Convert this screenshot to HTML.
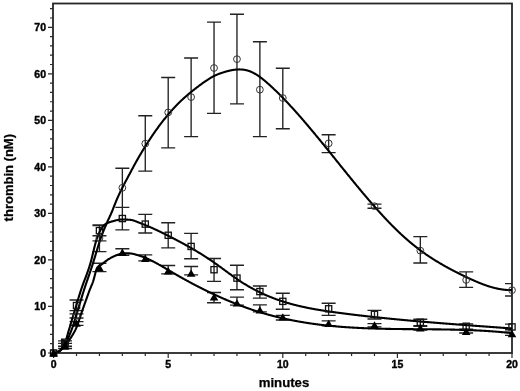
<!DOCTYPE html>
<html><head><meta charset="utf-8"><style>
html,body{margin:0;padding:0;background:#fff;}
body{width:520px;height:391px;overflow:hidden;}
svg{display:block;filter:grayscale(1);}
</style></head><body>
<svg width="520" height="391" viewBox="0 0 520 391"><defs><clipPath id="c"><rect x="0" y="0" width="512" height="391"/></clipPath></defs><rect x="53.0" y="3.5" width="459.0" height="349.5" fill="none" stroke="#262626" stroke-width="1.8"/><path d="M48.0,353.00H53.0 M50.0,343.69H53.0 M50.0,334.39H53.0 M50.0,325.08H53.0 M50.0,315.78H53.0 M48.0,306.47H53.0 M50.0,297.16H53.0 M50.0,287.86H53.0 M50.0,278.55H53.0 M50.0,269.25H53.0 M48.0,259.94H53.0 M50.0,250.63H53.0 M50.0,241.33H53.0 M50.0,232.02H53.0 M50.0,222.72H53.0 M48.0,213.41H53.0 M50.0,204.10H53.0 M50.0,194.80H53.0 M50.0,185.49H53.0 M50.0,176.19H53.0 M48.0,166.88H53.0 M50.0,157.57H53.0 M50.0,148.27H53.0 M50.0,138.96H53.0 M50.0,129.66H53.0 M48.0,120.35H53.0 M50.0,111.04H53.0 M50.0,101.74H53.0 M50.0,92.43H53.0 M50.0,83.13H53.0 M48.0,73.82H53.0 M50.0,64.51H53.0 M50.0,55.21H53.0 M50.0,45.90H53.0 M50.0,36.60H53.0 M48.0,27.29H53.0 M50.0,17.98H53.0 M50.0,8.68H53.0 M53.60,353.0V358.0 M76.52,353.0V356.0 M99.44,353.0V356.0 M122.36,353.0V356.0 M145.28,353.0V356.0 M168.20,353.0V358.0 M191.12,353.0V356.0 M214.04,353.0V356.0 M236.96,353.0V356.0 M259.88,353.0V356.0 M282.80,353.0V358.0 M305.72,353.0V356.0 M328.64,353.0V356.0 M351.56,353.0V356.0 M374.48,353.0V356.0 M397.40,353.0V358.0 M420.32,353.0V356.0 M443.24,353.0V356.0 M466.16,353.0V356.0 M489.08,353.0V356.0 M512.00,353.0V358.0" stroke="#2a2a2a" stroke-width="1.2" fill="none"/><g font-family="Liberation Sans, sans-serif" font-weight="bold" font-size="10.5" fill="#000" stroke="#000" stroke-width="0.4"><text x="46.0" y="356.80" text-anchor="end">0</text><text x="46.0" y="310.27" text-anchor="end">10</text><text x="46.0" y="263.74" text-anchor="end">20</text><text x="46.0" y="217.21" text-anchor="end">30</text><text x="46.0" y="170.68" text-anchor="end">40</text><text x="46.0" y="124.15" text-anchor="end">50</text><text x="46.0" y="77.62" text-anchor="end">60</text><text x="46.0" y="31.09" text-anchor="end">70</text><text x="53.60" y="367.7" text-anchor="middle">0</text><text x="168.20" y="367.7" text-anchor="middle">5</text><text x="282.80" y="367.7" text-anchor="middle">10</text><text x="397.40" y="367.7" text-anchor="middle">15</text><text x="512.00" y="367.7" text-anchor="middle">20</text></g><text x="284.0" y="386.8" text-anchor="middle" font-family="Liberation Sans, sans-serif" font-weight="bold" font-size="13.2" fill="#000" stroke="#000" stroke-width="0.25">minutes</text><text transform="translate(13.1,177.7) rotate(-90)" text-anchor="middle" font-family="Liberation Sans, sans-serif" font-weight="bold" font-size="13" fill="#000" stroke="#000" stroke-width="0.25">thrombin (nM)</text><path d="M92.44,240.9h14" stroke="#333" stroke-width="1.3"/><rect x="61" y="338.5" width="7.4" height="11" fill="#111"/><g clip-path="url(#c)"><path d="M65.06,340.90V346.21 M58.06,340.90h14 M58.06,346.21h14 M76.52,313.82V318.01 M69.52,313.82h14 M69.52,318.01h14 M99.44,225.04V251.56 M92.44,225.04h14 M92.44,251.56h14 M122.36,168.28V207.36 M115.36,168.28h14 M115.36,207.36h14 M145.28,115.70V171.07 M138.28,115.70h14 M138.28,171.07h14 M168.20,77.54V147.80 M161.20,77.54h14 M161.20,147.80h14 M191.12,58.00V136.64 M184.12,58.00h14 M184.12,136.64h14 M214.04,22.17V113.37 M207.04,22.17h14 M207.04,113.37h14 M236.96,14.26V103.83 M229.96,14.26h14 M229.96,103.83h14 M259.88,41.71V136.64 M252.88,41.71h14 M252.88,136.64h14 M282.80,68.24V128.73 M275.80,68.24h14 M275.80,128.73h14 M328.64,134.77V152.69 M321.64,134.77h14 M321.64,152.69h14 M374.48,204.10V208.29 M367.48,204.10h14 M367.48,208.29h14 M420.32,236.68V262.96 M413.32,236.68h14 M413.32,262.96h14 M466.16,271.81V287.39 M459.16,271.81h14 M459.16,287.39h14 M512.00,283.67V296.00 M505.00,283.67h14 M505.00,296.00h14 M65.06,343.41V348.49 M58.06,343.41h14 M58.06,348.49h14 M76.52,300.00V310.61 M69.52,300.00h14 M69.52,310.61h14 M99.44,225.51V235.74 M92.44,225.51h14 M92.44,235.74h14 M122.36,207.36V229.93 M115.36,207.36h14 M115.36,229.93h14 M145.28,214.34V232.95 M138.28,214.34h14 M138.28,232.95h14 M168.20,222.72V247.84 M161.20,222.72h14 M161.20,247.84h14 M191.12,233.42V258.78 M184.12,233.42h14 M184.12,258.78h14 M214.04,258.54V281.34 M207.04,258.54h14 M207.04,281.34h14 M236.96,265.29V289.72 M229.96,265.29h14 M229.96,289.72h14 M259.88,286.00V298.09 M252.88,286.00h14 M252.88,298.09h14 M282.80,293.21V309.26 M275.80,293.21h14 M275.80,309.26h14 M328.64,303.21V315.31 M321.64,303.21h14 M321.64,315.31h14 M374.48,310.43V319.03 M367.48,310.43h14 M367.48,319.03h14 M420.32,319.27V325.78 M413.32,319.27h14 M413.32,325.78h14 M466.16,323.92V329.27 M459.16,323.92h14 M459.16,329.27h14 M512.00,324.15V329.74 M505.00,324.15h14 M505.00,329.74h14 M65.06,343.41V348.49 M58.06,343.41h14 M58.06,348.49h14 M76.52,321.59V325.31 M69.52,321.59h14 M69.52,325.31h14 M99.44,263.20V271.57 M92.44,263.20h14 M92.44,271.57h14 M122.36,248.77V255.29 M115.36,248.77h14 M115.36,255.29h14 M145.28,254.82V260.87 M138.28,254.82h14 M138.28,260.87h14 M168.20,265.52V273.90 M161.20,265.52h14 M161.20,273.90h14 M191.12,266.45V274.83 M184.12,266.45h14 M184.12,274.83h14 M214.04,292.51V302.75 M207.04,292.51h14 M207.04,302.75h14 M236.96,297.16V305.07 M229.96,297.16h14 M229.96,305.07h14 M259.88,304.84V311.82 M252.88,304.84h14 M252.88,311.82h14 M282.80,315.31V319.96 M275.80,315.31h14 M275.80,319.96h14 M328.64,320.89V325.78 M321.64,320.89h14 M321.64,325.78h14 M374.48,323.69V326.94 M367.48,323.69h14 M367.48,326.94h14 M420.32,326.25V329.97 M413.32,326.25h14 M413.32,329.97h14 M466.16,329.74V332.99 M459.16,329.74h14 M459.16,332.99h14 M512.00,332.06V335.32 M505.00,332.06h14 M505.00,335.32h14" stroke="#222" stroke-width="1.35" fill="none"/></g><path d="M53.00,353.00 L53.38,352.99 L53.77,352.96 L54.15,352.92 L54.53,352.86 L54.91,352.78 L55.30,352.69 L55.68,352.59 L56.06,352.47 L56.44,352.35 L56.83,352.21 L57.21,352.07 L57.59,351.92 L57.97,351.76 L58.35,351.60 L58.74,351.43 L59.12,351.24 L59.50,351.00 L59.88,350.72 L60.27,350.40 L60.65,350.03 L61.03,349.63 L61.41,349.20 L61.80,348.74 L62.18,348.26 L62.56,347.75 L62.95,347.23 L63.33,346.69 L63.71,346.15 L64.09,345.59 L64.47,345.04 L64.86,344.46 L65.24,343.85 L65.62,343.20 L66.00,342.52 L66.39,341.80 L66.77,341.06 L67.15,340.28 L67.53,339.48 L67.92,338.65 L68.30,337.80 L68.68,336.93 L69.06,336.04 L69.45,335.12 L69.83,334.20 L70.21,333.26 L70.59,332.30 L70.98,331.33 L71.36,330.36 L71.74,329.37 L72.12,328.33 L72.51,327.24 L72.89,326.11 L73.27,324.94 L73.66,323.74 L74.04,322.51 L74.42,321.26 L74.80,319.99 L75.19,318.71 L75.57,317.42 L75.95,316.13 L76.33,314.84 L76.72,313.56 L77.10,312.29 L77.48,311.03 L77.86,309.80 L78.25,308.57 L78.63,307.33 L79.01,306.09 L79.39,304.85 L79.78,303.60 L80.16,302.35 L80.54,301.09 L80.92,299.84 L81.31,298.60 L81.69,297.35 L82.07,296.12 L82.45,294.89 L82.84,293.66 L83.22,292.45 L83.60,291.25 L83.98,290.05 L84.36,288.88 L84.75,287.71 L85.13,286.56 L85.51,285.41 L85.89,284.28 L86.28,283.15 L86.66,282.02 L87.04,280.91 L87.42,279.79 L87.81,278.68 L88.19,277.57 L88.57,276.46 L88.95,275.35 L89.34,274.23 L89.72,273.11 L90.10,271.99 L90.48,270.86 L90.87,269.73 L91.25,268.58 L91.63,267.43 L92.01,266.26 L92.40,265.08 L92.78,263.88 L93.16,262.66 L93.54,261.43 L93.93,260.18 L94.31,258.92 L94.69,257.66 L95.07,256.38 L95.46,255.10 L95.84,253.82 L96.22,252.54 L96.60,251.26 L96.99,249.98 L97.37,248.71 L97.75,247.45 L98.13,246.20 L98.52,244.97 L98.90,243.74 L99.28,242.54 L99.66,241.35 L100.05,240.19 L100.43,239.05 L100.81,237.93 L101.19,236.84 L101.58,235.79 L101.96,234.76 L102.34,233.75 L102.72,232.77 L103.11,231.80 L103.49,230.85 L103.87,229.92 L104.25,229.00 L104.64,228.08 L105.02,227.18 L105.40,226.29 L105.78,225.39 L106.17,224.50 L106.55,223.62 L106.93,222.73 L107.31,221.87 L107.70,221.02 L108.08,220.18 L108.46,219.35 L108.84,218.53 L109.23,217.71 L109.61,216.88 L109.99,216.06 L110.38,215.22 L110.76,214.38 L111.14,213.52 L111.52,212.65 L111.91,211.75 L112.29,210.83 L112.67,209.89 L113.05,208.93 L113.43,207.96 L113.82,206.97 L114.20,205.99 L114.58,205.00 L114.97,204.02 L115.35,203.05 L115.73,202.09 L116.11,201.16 L116.50,200.25 L116.88,199.36 L117.26,198.48 L117.64,197.61 L118.03,196.76 L118.41,195.91 L118.79,195.07 L119.17,194.24 L119.56,193.42 L119.94,192.61 L120.32,191.81 L120.70,191.02 L121.08,190.23 L121.47,189.46 L121.85,188.69 L122.23,187.93 L122.62,187.18 L123.00,186.44 L123.38,185.70 L123.76,184.97 L124.14,184.24 L124.53,183.51 L124.91,182.78 L125.29,182.06 L125.67,181.34 L126.06,180.62 L126.44,179.89 L126.82,179.17 L127.20,178.45 L127.59,177.74 L127.97,177.02 L128.35,176.30 L128.73,175.58 L129.12,174.86 L129.50,174.14 L129.88,173.42 L130.26,172.70 L130.65,171.98 L131.03,171.26 L131.41,170.55 L131.79,169.83 L132.18,169.11 L132.56,168.39 L132.94,167.68 L133.32,166.97 L133.71,166.26 L134.09,165.55 L134.47,164.84 L134.85,164.14 L135.24,163.44 L135.62,162.75 L136.00,162.06 L136.38,161.38 L136.77,160.70 L137.15,160.03 L137.53,159.36 L137.91,158.69 L138.30,158.03 L138.68,157.37 L139.06,156.71 L139.44,156.06 L139.83,155.40 L140.21,154.75 L140.59,154.10 L140.97,153.46 L141.36,152.82 L141.74,152.18 L142.12,151.54 L142.50,150.91 L142.89,150.28 L143.27,149.65 L143.65,149.02 L144.03,148.40 L144.42,147.78 L144.80,147.16 L145.18,146.55 L145.56,145.93 L145.95,145.33 L146.33,144.72 L146.71,144.11 L147.09,143.51 L147.48,142.91 L147.86,142.32 L148.24,141.73 L148.62,141.13 L149.01,140.55 L149.39,139.96 L149.77,139.38 L150.16,138.80 L150.54,138.22 L150.92,137.65 L151.30,137.08 L151.69,136.51 L152.07,135.94 L152.45,135.38 L152.83,134.82 L153.22,134.26 L153.60,133.70 L153.98,133.15 L154.36,132.60 L154.74,132.05 L155.13,131.51 L155.51,130.97 L155.89,130.43 L156.27,129.89 L156.66,129.36 L157.04,128.82 L157.42,128.30 L157.80,127.77 L158.19,127.25 L158.57,126.73 L158.95,126.21 L159.34,125.69 L159.72,125.18 L160.10,124.67 L160.48,124.16 L160.86,123.66 L161.25,123.16 L161.63,122.66 L162.01,122.16 L162.39,121.67 L162.78,121.18 L163.16,120.69 L163.54,120.20 L163.92,119.72 L164.31,119.24 L164.69,118.76 L165.07,118.28 L165.45,117.81 L165.84,117.34 L166.22,116.87 L166.60,116.41 L166.98,115.95 L167.37,115.49 L167.75,115.03 L168.13,114.58 L168.51,114.13 L168.90,113.68 L169.28,113.23 L169.66,112.79 L170.04,112.35 L170.43,111.91 L170.81,111.48 L171.19,111.04 L171.57,110.61 L171.96,110.19 L172.34,109.76 L172.72,109.34 L173.10,108.92 L173.49,108.50 L173.87,108.09 L174.25,107.68 L174.63,107.27 L175.02,106.86 L175.40,106.46 L175.78,106.06 L176.16,105.66 L176.55,105.26 L176.93,104.87 L177.31,104.48 L177.69,104.09 L178.08,103.71 L178.46,103.33 L178.84,102.95 L179.22,102.57 L179.61,102.19 L179.99,101.82 L180.37,101.45 L180.75,101.09 L181.14,100.72 L181.52,100.36 L181.90,100.00 L182.28,99.64 L182.67,99.29 L183.05,98.93 L183.43,98.58 L183.81,98.24 L184.20,97.89 L184.58,97.55 L184.96,97.20 L185.34,96.86 L185.73,96.53 L186.11,96.19 L186.49,95.86 L186.87,95.53 L187.26,95.20 L187.64,94.87 L188.02,94.54 L188.40,94.22 L188.79,93.90 L189.17,93.58 L189.55,93.26 L189.93,92.94 L190.32,92.62 L190.70,92.31 L191.08,92.00 L191.46,91.69 L191.85,91.38 L192.23,91.07 L192.61,90.77 L192.99,90.46 L193.38,90.16 L193.76,89.86 L194.14,89.55 L194.52,89.26 L194.91,88.96 L195.29,88.66 L195.67,88.37 L196.05,88.07 L196.44,87.78 L196.82,87.49 L197.20,87.19 L197.58,86.90 L197.97,86.62 L198.35,86.33 L198.73,86.04 L199.11,85.75 L199.50,85.47 L199.88,85.18 L200.26,84.90 L200.64,84.62 L201.03,84.34 L201.41,84.06 L201.79,83.78 L202.17,83.50 L202.56,83.22 L202.94,82.95 L203.32,82.67 L203.70,82.40 L204.09,82.13 L204.47,81.86 L204.85,81.59 L205.23,81.33 L205.62,81.06 L206.00,80.80 L206.38,80.55 L206.76,80.29 L207.15,80.04 L207.53,79.78 L207.91,79.54 L208.29,79.29 L208.68,79.05 L209.06,78.81 L209.44,78.57 L209.82,78.34 L210.21,78.11 L210.59,77.88 L210.97,77.66 L211.35,77.43 L211.74,77.22 L212.12,77.00 L212.50,76.80 L212.88,76.59 L213.27,76.39 L213.65,76.19 L214.03,76.00 L214.41,75.81 L214.80,75.62 L215.18,75.44 L215.56,75.27 L215.94,75.09 L216.33,74.92 L216.71,74.76 L217.09,74.59 L217.47,74.43 L217.86,74.28 L218.24,74.12 L218.62,73.97 L219.00,73.83 L219.39,73.68 L219.77,73.54 L220.15,73.40 L220.53,73.27 L220.92,73.14 L221.30,73.00 L221.68,72.88 L222.06,72.75 L222.45,72.63 L222.83,72.50 L223.21,72.38 L223.59,72.26 L223.98,72.15 L224.36,72.03 L224.74,71.92 L225.12,71.81 L225.51,71.70 L225.89,71.59 L226.27,71.48 L226.65,71.38 L227.04,71.27 L227.42,71.17 L227.80,71.07 L228.18,70.98 L228.57,70.88 L228.95,70.79 L229.33,70.70 L229.71,70.61 L230.10,70.53 L230.48,70.45 L230.86,70.37 L231.24,70.29 L231.63,70.21 L232.01,70.14 L232.39,70.07 L232.77,70.01 L233.16,69.95 L233.54,69.89 L233.92,69.83 L234.30,69.78 L234.69,69.73 L235.07,69.68 L235.45,69.64 L235.83,69.60 L236.22,69.56 L236.60,69.53 L236.98,69.51 L237.36,69.48 L237.75,69.46 L238.13,69.45 L238.51,69.43 L238.89,69.43 L239.28,69.42 L239.66,69.42 L240.04,69.43 L240.42,69.44 L240.81,69.45 L241.19,69.47 L241.57,69.50 L241.95,69.52 L242.34,69.56 L242.72,69.59 L243.10,69.64 L243.48,69.69 L243.87,69.74 L244.25,69.80 L244.63,69.86 L245.01,69.93 L245.40,70.01 L245.78,70.08 L246.16,70.17 L246.54,70.26 L246.93,70.36 L247.31,70.46 L247.69,70.57 L248.07,70.68 L248.46,70.80 L248.84,70.93 L249.22,71.06 L249.60,71.20 L249.99,71.35 L250.37,71.50 L250.75,71.66 L251.13,71.82 L251.52,71.99 L251.90,72.16 L252.28,72.34 L252.66,72.53 L253.05,72.72 L253.43,72.91 L253.81,73.12 L254.19,73.32 L254.58,73.53 L254.96,73.75 L255.34,73.97 L255.72,74.20 L256.11,74.43 L256.49,74.67 L256.87,74.91 L257.25,75.15 L257.64,75.40 L258.02,75.66 L258.40,75.92 L258.78,76.18 L259.17,76.45 L259.55,76.72 L259.93,76.99 L260.31,77.27 L260.70,77.55 L261.08,77.84 L261.46,78.13 L261.85,78.42 L262.23,78.72 L262.61,79.02 L262.99,79.32 L263.37,79.63 L263.76,79.93 L264.14,80.25 L264.52,80.56 L264.90,80.88 L265.29,81.20 L265.67,81.52 L266.05,81.85 L266.44,82.18 L266.82,82.51 L267.20,82.84 L267.58,83.18 L267.96,83.52 L268.35,83.85 L268.73,84.20 L269.11,84.54 L269.50,84.89 L269.88,85.23 L270.26,85.58 L270.64,85.93 L271.02,86.28 L271.41,86.64 L271.79,86.99 L272.17,87.35 L272.56,87.70 L272.94,88.06 L273.32,88.42 L273.70,88.78 L274.08,89.15 L274.47,89.51 L274.85,89.88 L275.23,90.24 L275.61,90.61 L276.00,90.98 L276.38,91.35 L276.76,91.73 L277.14,92.10 L277.53,92.48 L277.91,92.85 L278.29,93.23 L278.67,93.61 L279.06,93.99 L279.44,94.37 L279.82,94.75 L280.20,95.14 L280.59,95.52 L280.97,95.91 L281.35,96.29 L281.73,96.68 L282.12,97.07 L282.50,97.46 L282.88,97.86 L283.26,98.25 L283.65,98.65 L284.03,99.04 L284.41,99.44 L284.80,99.84 L285.18,100.24 L285.56,100.64 L285.94,101.04 L286.32,101.44 L286.71,101.84 L287.09,102.25 L287.47,102.65 L287.86,103.06 L288.24,103.47 L288.62,103.88 L289.00,104.29 L289.38,104.70 L289.77,105.11 L290.15,105.53 L290.53,105.94 L290.91,106.36 L291.30,106.77 L291.68,107.19 L292.06,107.61 L292.44,108.03 L292.83,108.45 L293.21,108.87 L293.59,109.29 L293.97,109.71 L294.36,110.14 L294.74,110.56 L295.12,110.99 L295.50,111.41 L295.89,111.84 L296.27,112.27 L296.65,112.70 L297.03,113.13 L297.42,113.56 L297.80,113.99 L298.18,114.43 L298.56,114.86 L298.95,115.29 L299.33,115.73 L299.71,116.17 L300.09,116.60 L300.48,117.04 L300.86,117.48 L301.24,117.92 L301.62,118.36 L302.01,118.80 L302.39,119.24 L302.77,119.68 L303.15,120.13 L303.54,120.57 L303.92,121.01 L304.30,121.46 L304.68,121.91 L305.07,122.35 L305.45,122.80 L305.83,123.25 L306.21,123.70 L306.60,124.15 L306.98,124.60 L307.36,125.05 L307.75,125.50 L308.13,125.95 L308.51,126.40 L308.89,126.86 L309.27,127.31 L309.66,127.76 L310.04,128.22 L310.42,128.67 L310.81,129.13 L311.19,129.59 L311.57,130.05 L311.95,130.50 L312.33,130.96 L312.72,131.42 L313.10,131.88 L313.48,132.34 L313.87,132.80 L314.25,133.26 L314.63,133.72 L315.01,134.18 L315.39,134.65 L315.78,135.11 L316.16,135.57 L316.54,136.04 L316.92,136.50 L317.31,136.97 L317.69,137.43 L318.07,137.90 L318.45,138.36 L318.84,138.83 L319.22,139.29 L319.60,139.76 L319.99,140.23 L320.37,140.70 L320.75,141.17 L321.13,141.63 L321.51,142.10 L321.90,142.57 L322.28,143.04 L322.66,143.51 L323.05,143.98 L323.43,144.45 L323.81,144.92 L324.19,145.39 L324.57,145.86 L324.96,146.34 L325.34,146.81 L325.72,147.28 L326.11,147.75 L326.49,148.22 L326.87,148.70 L327.25,149.17 L327.63,149.64 L328.02,150.12 L328.40,150.59 L328.78,151.06 L329.16,151.54 L329.55,152.01 L329.93,152.48 L330.31,152.96 L330.69,153.43 L331.08,153.91 L331.46,154.38 L331.84,154.86 L332.22,155.33 L332.61,155.81 L332.99,156.28 L333.37,156.76 L333.75,157.23 L334.14,157.71 L334.52,158.18 L334.90,158.66 L335.28,159.13 L335.67,159.61 L336.05,160.08 L336.43,160.56 L336.81,161.04 L337.20,161.51 L337.58,161.99 L337.96,162.46 L338.35,162.94 L338.73,163.41 L339.11,163.89 L339.49,164.36 L339.88,164.84 L340.26,165.31 L340.64,165.79 L341.02,166.26 L341.40,166.74 L341.79,167.21 L342.17,167.69 L342.55,168.16 L342.94,168.64 L343.32,169.11 L343.70,169.58 L344.08,170.06 L344.46,170.53 L344.85,171.01 L345.23,171.48 L345.61,171.95 L346.00,172.43 L346.38,172.90 L346.76,173.37 L347.14,173.84 L347.52,174.32 L347.91,174.79 L348.29,175.26 L348.67,175.73 L349.06,176.20 L349.44,176.67 L349.82,177.14 L350.20,177.61 L350.58,178.08 L350.97,178.55 L351.35,179.02 L351.73,179.49 L352.12,179.96 L352.50,180.43 L352.88,180.90 L353.26,181.36 L353.64,181.83 L354.03,182.30 L354.41,182.77 L354.79,183.23 L355.17,183.70 L355.56,184.16 L355.94,184.63 L356.32,185.09 L356.70,185.56 L357.09,186.02 L357.47,186.48 L357.85,186.95 L358.23,187.41 L358.62,187.87 L359.00,188.33 L359.38,188.79 L359.76,189.25 L360.15,189.71 L360.53,190.17 L360.91,190.63 L361.30,191.09 L361.68,191.55 L362.06,192.00 L362.44,192.46 L362.82,192.92 L363.21,193.37 L363.59,193.83 L363.97,194.28 L364.36,194.73 L364.74,195.19 L365.12,195.64 L365.50,196.09 L365.88,196.54 L366.27,196.99 L366.65,197.44 L367.03,197.89 L367.41,198.34 L367.80,198.79 L368.18,199.24 L368.56,199.68 L368.94,200.13 L369.33,200.57 L369.71,201.02 L370.09,201.46 L370.47,201.90 L370.86,202.35 L371.24,202.79 L371.62,203.23 L372.00,203.67 L372.39,204.11 L372.77,204.55 L373.15,204.98 L373.53,205.42 L373.92,205.86 L374.30,206.29 L374.68,206.73 L375.06,207.16 L375.45,207.59 L375.83,208.02 L376.21,208.45 L376.59,208.88 L376.98,209.31 L377.36,209.74 L377.74,210.17 L378.12,210.60 L378.51,211.02 L378.89,211.45 L379.27,211.87 L379.65,212.29 L380.04,212.71 L380.42,213.13 L380.80,213.55 L381.18,213.97 L381.57,214.39 L381.95,214.81 L382.33,215.22 L382.71,215.64 L383.10,216.05 L383.48,216.47 L383.86,216.88 L384.25,217.29 L384.63,217.70 L385.01,218.11 L385.39,218.52 L385.77,218.92 L386.16,219.33 L386.54,219.73 L386.92,220.14 L387.31,220.54 L387.69,220.94 L388.07,221.34 L388.45,221.74 L388.83,222.14 L389.22,222.53 L389.60,222.93 L389.98,223.32 L390.37,223.72 L390.75,224.11 L391.13,224.50 L391.51,224.89 L391.89,225.28 L392.28,225.66 L392.66,226.05 L393.04,226.44 L393.42,226.82 L393.81,227.20 L394.19,227.58 L394.57,227.96 L394.95,228.34 L395.34,228.72 L395.72,229.09 L396.10,229.47 L396.48,229.84 L396.87,230.21 L397.25,230.58 L397.63,230.95 L398.01,231.32 L398.40,231.69 L398.78,232.05 L399.16,232.42 L399.54,232.78 L399.93,233.14 L400.31,233.50 L400.69,233.86 L401.07,234.22 L401.46,234.57 L401.84,234.93 L402.22,235.28 L402.61,235.63 L402.99,235.98 L403.37,236.33 L403.75,236.68 L404.13,237.02 L404.52,237.37 L404.90,237.71 L405.28,238.05 L405.66,238.39 L406.05,238.73 L406.43,239.06 L406.81,239.40 L407.19,239.73 L407.58,240.06 L407.96,240.39 L408.34,240.72 L408.72,241.05 L409.11,241.38 L409.49,241.70 L409.87,242.02 L410.25,242.34 L410.64,242.66 L411.02,242.98 L411.40,243.30 L411.78,243.61 L412.17,243.93 L412.55,244.24 L412.93,244.55 L413.31,244.86 L413.70,245.17 L414.08,245.47 L414.46,245.78 L414.84,246.08 L415.23,246.38 L415.61,246.68 L415.99,246.98 L416.38,247.28 L416.76,247.58 L417.14,247.87 L417.52,248.17 L417.90,248.46 L418.29,248.75 L418.67,249.04 L419.05,249.33 L419.43,249.61 L419.82,249.90 L420.20,250.18 L420.58,250.47 L420.96,250.75 L421.35,251.03 L421.73,251.31 L422.11,251.59 L422.49,251.86 L422.88,252.14 L423.26,252.41 L423.64,252.68 L424.02,252.96 L424.41,253.23 L424.79,253.49 L425.17,253.76 L425.55,254.03 L425.94,254.29 L426.32,254.56 L426.70,254.82 L427.08,255.08 L427.47,255.34 L427.85,255.60 L428.23,255.86 L428.61,256.12 L429.00,256.37 L429.38,256.63 L429.76,256.88 L430.14,257.14 L430.53,257.39 L430.91,257.64 L431.29,257.89 L431.67,258.13 L432.06,258.38 L432.44,258.63 L432.82,258.87 L433.20,259.12 L433.59,259.36 L433.97,259.60 L434.35,259.84 L434.73,260.08 L435.12,260.32 L435.50,260.56 L435.88,260.79 L436.26,261.03 L436.65,261.26 L437.03,261.50 L437.41,261.73 L437.79,261.96 L438.18,262.19 L438.56,262.42 L438.94,262.65 L439.32,262.88 L439.71,263.11 L440.09,263.33 L440.47,263.56 L440.85,263.78 L441.24,264.01 L441.62,264.23 L442.00,264.45 L442.38,264.67 L442.77,264.89 L443.15,265.11 L443.53,265.33 L443.91,265.55 L444.30,265.76 L444.68,265.98 L445.06,266.19 L445.44,266.41 L445.83,266.62 L446.21,266.83 L446.59,267.04 L446.97,267.25 L447.36,267.46 L447.74,267.67 L448.12,267.88 L448.50,268.09 L448.89,268.30 L449.27,268.50 L449.65,268.71 L450.03,268.91 L450.42,269.12 L450.80,269.32 L451.18,269.52 L451.56,269.73 L451.95,269.93 L452.33,270.13 L452.71,270.33 L453.09,270.53 L453.48,270.73 L453.86,270.92 L454.24,271.12 L454.62,271.32 L455.01,271.52 L455.39,271.71 L455.77,271.91 L456.15,272.10 L456.54,272.29 L456.92,272.49 L457.30,272.68 L457.68,272.87 L458.07,273.06 L458.45,273.25 L458.83,273.45 L459.21,273.63 L459.60,273.82 L459.98,274.01 L460.36,274.20 L460.74,274.39 L461.13,274.58 L461.51,274.76 L461.89,274.95 L462.27,275.14 L462.66,275.32 L463.04,275.51 L463.42,275.69 L463.80,275.87 L464.19,276.06 L464.57,276.24 L464.95,276.42 L465.33,276.61 L465.72,276.79 L466.10,276.97 L466.48,277.15 L466.86,277.33 L467.25,277.51 L467.63,277.69 L468.01,277.87 L468.39,278.05 L468.78,278.23 L469.16,278.41 L469.54,278.58 L469.92,278.76 L470.31,278.93 L470.69,279.11 L471.07,279.28 L471.45,279.46 L471.84,279.63 L472.22,279.80 L472.60,279.97 L472.98,280.15 L473.37,280.32 L473.75,280.49 L474.13,280.65 L474.51,280.82 L474.90,280.99 L475.28,281.15 L475.66,281.32 L476.04,281.48 L476.43,281.65 L476.81,281.81 L477.19,281.97 L477.57,282.13 L477.96,282.29 L478.34,282.45 L478.72,282.60 L479.10,282.76 L479.49,282.92 L479.87,283.07 L480.25,283.22 L480.63,283.37 L481.02,283.52 L481.40,283.67 L481.78,283.82 L482.16,283.97 L482.55,284.11 L482.93,284.26 L483.31,284.40 L483.69,284.54 L484.08,284.68 L484.46,284.82 L484.84,284.96 L485.22,285.10 L485.61,285.23 L485.99,285.36 L486.37,285.50 L486.75,285.63 L487.14,285.76 L487.52,285.88 L487.90,286.01 L488.28,286.14 L488.67,286.26 L489.05,286.38 L489.43,286.50 L489.81,286.62 L490.20,286.73 L490.58,286.85 L490.96,286.96 L491.34,287.08 L491.73,287.19 L492.11,287.29 L492.49,287.40 L492.87,287.50 L493.26,287.61 L493.64,287.71 L494.02,287.81 L494.40,287.91 L494.79,288.00 L495.17,288.10 L495.55,288.19 L495.93,288.28 L496.32,288.37 L496.70,288.45 L497.08,288.54 L497.46,288.62 L497.85,288.70 L498.23,288.78 L498.61,288.85 L498.99,288.93 L499.38,289.00 L499.76,289.07 L500.14,289.13 L500.52,289.20 L500.91,289.26 L501.29,289.32 L501.67,289.38 L502.05,289.44 L502.44,289.49 L502.82,289.55 L503.20,289.60 L503.58,289.64 L503.97,289.69 L504.35,289.73 L504.73,289.77 L505.11,289.81 L505.50,289.85 L505.88,289.88 L506.26,289.91 L506.64,289.94 L507.03,289.97 L507.41,289.99 L507.79,290.01 L508.17,290.03 L508.56,290.04 L508.94,290.06 L509.32,290.07 L509.70,290.08 L510.09,290.08 L510.47,290.08 L510.85,290.09 L511.23,290.08 L511.62,290.08 L512.00,290.07" stroke="#000" stroke-width="2.1" fill="none" stroke-linejoin="round"/><path d="M53.00,353.00 L53.38,352.99 L53.77,352.96 L54.15,352.91 L54.53,352.84 L54.91,352.75 L55.30,352.65 L55.68,352.53 L56.06,352.40 L56.44,352.26 L56.83,352.11 L57.21,351.95 L57.59,351.78 L57.97,351.60 L58.35,351.42 L58.74,351.23 L59.12,351.03 L59.50,350.78 L59.88,350.49 L60.27,350.15 L60.65,349.78 L61.03,349.37 L61.41,348.93 L61.80,348.45 L62.18,347.94 L62.56,347.39 L62.95,346.82 L63.33,346.21 L63.71,345.58 L64.09,344.93 L64.47,344.25 L64.86,343.47 L65.24,342.54 L65.62,341.47 L66.00,340.28 L66.39,339.00 L66.77,337.65 L67.15,336.26 L67.53,334.85 L67.92,333.44 L68.30,332.06 L68.68,330.73 L69.06,329.46 L69.45,328.20 L69.83,326.93 L70.21,325.66 L70.59,324.39 L70.98,323.11 L71.36,321.83 L71.74,320.55 L72.12,319.27 L72.51,317.98 L72.89,316.70 L73.27,315.42 L73.66,314.14 L74.04,312.86 L74.42,311.59 L74.80,310.32 L75.19,309.06 L75.57,307.78 L75.95,306.50 L76.33,305.22 L76.72,303.93 L77.10,302.64 L77.48,301.36 L77.86,300.08 L78.25,298.81 L78.63,297.54 L79.01,296.29 L79.39,295.04 L79.78,293.82 L80.16,292.60 L80.54,291.41 L80.92,290.24 L81.31,289.09 L81.69,287.96 L82.07,286.86 L82.45,285.78 L82.84,284.73 L83.22,283.68 L83.60,282.65 L83.98,281.63 L84.36,280.62 L84.75,279.61 L85.13,278.60 L85.51,277.59 L85.89,276.58 L86.28,275.56 L86.66,274.53 L87.04,273.49 L87.42,272.43 L87.81,271.36 L88.19,270.26 L88.57,269.14 L88.95,268.00 L89.34,266.82 L89.72,265.62 L90.10,264.34 L90.48,263.00 L90.87,261.60 L91.25,260.16 L91.63,258.67 L92.01,257.14 L92.40,255.60 L92.78,254.03 L93.16,252.46 L93.54,250.89 L93.93,249.33 L94.31,247.79 L94.69,246.27 L95.07,244.79 L95.46,243.35 L95.84,241.97 L96.22,240.64 L96.60,239.39 L96.99,238.21 L97.37,237.12 L97.75,236.12 L98.13,235.19 L98.52,234.29 L98.90,233.41 L99.28,232.57 L99.66,231.76 L100.05,230.98 L100.43,230.24 L100.81,229.54 L101.19,228.88 L101.58,228.27 L101.96,227.71 L102.34,227.20 L102.72,226.73 L103.11,226.29 L103.49,225.87 L103.87,225.48 L104.25,225.11 L104.64,224.77 L105.02,224.46 L105.40,224.18 L105.78,223.93 L106.17,223.71 L106.55,223.50 L106.93,223.30 L107.31,223.12 L107.70,222.94 L108.08,222.77 L108.46,222.61 L108.84,222.46 L109.23,222.31 L109.61,222.17 L109.99,222.04 L110.38,221.91 L110.76,221.79 L111.14,221.68 L111.52,221.57 L111.91,221.46 L112.29,221.36 L112.67,221.26 L113.05,221.15 L113.43,221.05 L113.82,220.95 L114.20,220.85 L114.58,220.74 L114.97,220.64 L115.35,220.54 L115.73,220.45 L116.11,220.35 L116.50,220.26 L116.88,220.17 L117.26,220.08 L117.64,220.00 L118.03,219.92 L118.41,219.85 L118.79,219.78 L119.17,219.72 L119.56,219.67 L119.94,219.62 L120.32,219.58 L120.70,219.55 L121.08,219.52 L121.47,219.51 L121.85,219.50 L122.23,219.50 L122.62,219.50 L123.00,219.51 L123.38,219.51 L123.76,219.52 L124.14,219.53 L124.53,219.54 L124.91,219.55 L125.29,219.56 L125.67,219.57 L126.06,219.59 L126.44,219.60 L126.82,219.62 L127.20,219.64 L127.59,219.66 L127.97,219.68 L128.35,219.70 L128.73,219.73 L129.12,219.75 L129.50,219.78 L129.88,219.82 L130.26,219.86 L130.65,219.90 L131.03,219.95 L131.41,220.01 L131.79,220.07 L132.18,220.15 L132.56,220.24 L132.94,220.35 L133.32,220.46 L133.71,220.58 L134.09,220.70 L134.47,220.84 L134.85,220.97 L135.24,221.12 L135.62,221.26 L136.00,221.41 L136.38,221.56 L136.77,221.71 L137.15,221.86 L137.53,222.01 L137.91,222.16 L138.30,222.32 L138.68,222.47 L139.06,222.62 L139.44,222.77 L139.83,222.92 L140.21,223.07 L140.59,223.22 L140.97,223.37 L141.36,223.52 L141.74,223.68 L142.12,223.83 L142.50,223.99 L142.89,224.14 L143.27,224.29 L143.65,224.44 L144.03,224.59 L144.42,224.74 L144.80,224.89 L145.18,225.04 L145.56,225.19 L145.95,225.35 L146.33,225.51 L146.71,225.66 L147.09,225.82 L147.48,225.98 L147.86,226.14 L148.24,226.30 L148.62,226.46 L149.01,226.62 L149.39,226.79 L149.77,226.95 L150.16,227.12 L150.54,227.29 L150.92,227.45 L151.30,227.62 L151.69,227.79 L152.07,227.96 L152.45,228.13 L152.83,228.31 L153.22,228.48 L153.60,228.65 L153.98,228.83 L154.36,229.00 L154.74,229.18 L155.13,229.35 L155.51,229.53 L155.89,229.71 L156.27,229.89 L156.66,230.07 L157.04,230.25 L157.42,230.43 L157.80,230.61 L158.19,230.79 L158.57,230.98 L158.95,231.16 L159.34,231.34 L159.72,231.53 L160.10,231.71 L160.48,231.90 L160.86,232.09 L161.25,232.27 L161.63,232.46 L162.01,232.65 L162.39,232.84 L162.78,233.03 L163.16,233.22 L163.54,233.41 L163.92,233.60 L164.31,233.79 L164.69,233.98 L165.07,234.17 L165.45,234.36 L165.84,234.55 L166.22,234.75 L166.60,234.94 L166.98,235.13 L167.37,235.33 L167.75,235.52 L168.13,235.71 L168.51,235.91 L168.90,236.10 L169.28,236.30 L169.66,236.49 L170.04,236.69 L170.43,236.88 L170.81,237.08 L171.19,237.28 L171.57,237.47 L171.96,237.67 L172.34,237.87 L172.72,238.06 L173.10,238.26 L173.49,238.46 L173.87,238.66 L174.25,238.86 L174.63,239.05 L175.02,239.25 L175.40,239.45 L175.78,239.65 L176.16,239.85 L176.55,240.05 L176.93,240.26 L177.31,240.46 L177.69,240.66 L178.08,240.86 L178.46,241.06 L178.84,241.27 L179.22,241.47 L179.61,241.67 L179.99,241.88 L180.37,242.08 L180.75,242.29 L181.14,242.49 L181.52,242.70 L181.90,242.91 L182.28,243.11 L182.67,243.32 L183.05,243.53 L183.43,243.74 L183.81,243.94 L184.20,244.15 L184.58,244.36 L184.96,244.57 L185.34,244.78 L185.73,245.00 L186.11,245.21 L186.49,245.42 L186.87,245.63 L187.26,245.85 L187.64,246.06 L188.02,246.27 L188.40,246.49 L188.79,246.71 L189.17,246.92 L189.55,247.14 L189.93,247.36 L190.32,247.57 L190.70,247.79 L191.08,248.01 L191.46,248.23 L191.85,248.45 L192.23,248.67 L192.61,248.89 L192.99,249.12 L193.38,249.34 L193.76,249.56 L194.14,249.79 L194.52,250.01 L194.91,250.24 L195.29,250.46 L195.67,250.69 L196.05,250.92 L196.44,251.15 L196.82,251.37 L197.20,251.60 L197.58,251.83 L197.97,252.07 L198.35,252.30 L198.73,252.53 L199.11,252.76 L199.50,253.00 L199.88,253.23 L200.26,253.47 L200.64,253.70 L201.03,253.94 L201.41,254.18 L201.79,254.42 L202.17,254.66 L202.56,254.90 L202.94,255.14 L203.32,255.38 L203.70,255.62 L204.09,255.87 L204.47,256.11 L204.85,256.35 L205.23,256.60 L205.62,256.85 L206.00,257.10 L206.38,257.34 L206.76,257.59 L207.15,257.84 L207.53,258.09 L207.91,258.35 L208.29,258.60 L208.68,258.85 L209.06,259.11 L209.44,259.36 L209.82,259.62 L210.21,259.88 L210.59,260.13 L210.97,260.39 L211.35,260.65 L211.74,260.91 L212.12,261.18 L212.50,261.44 L212.88,261.70 L213.27,261.97 L213.65,262.23 L214.03,262.50 L214.41,262.77 L214.80,263.04 L215.18,263.31 L215.56,263.58 L215.94,263.85 L216.33,264.12 L216.71,264.39 L217.09,264.67 L217.47,264.94 L217.86,265.22 L218.24,265.49 L218.62,265.77 L219.00,266.05 L219.39,266.32 L219.77,266.60 L220.15,266.88 L220.53,267.16 L220.92,267.44 L221.30,267.71 L221.68,267.99 L222.06,268.27 L222.45,268.55 L222.83,268.83 L223.21,269.11 L223.59,269.39 L223.98,269.67 L224.36,269.95 L224.74,270.24 L225.12,270.52 L225.51,270.80 L225.89,271.08 L226.27,271.36 L226.65,271.64 L227.04,271.92 L227.42,272.20 L227.80,272.48 L228.18,272.76 L228.57,273.03 L228.95,273.31 L229.33,273.59 L229.71,273.87 L230.10,274.15 L230.48,274.42 L230.86,274.70 L231.24,274.97 L231.63,275.25 L232.01,275.52 L232.39,275.80 L232.77,276.07 L233.16,276.34 L233.54,276.62 L233.92,276.89 L234.30,277.16 L234.69,277.42 L235.07,277.69 L235.45,277.96 L235.83,278.23 L236.22,278.49 L236.60,278.76 L236.98,279.02 L237.36,279.28 L237.75,279.54 L238.13,279.80 L238.51,280.06 L238.89,280.32 L239.28,280.57 L239.66,280.83 L240.04,281.08 L240.42,281.33 L240.81,281.58 L241.19,281.83 L241.57,282.08 L241.95,282.33 L242.34,282.57 L242.72,282.81 L243.10,283.06 L243.48,283.30 L243.87,283.53 L244.25,283.77 L244.63,284.01 L245.01,284.24 L245.40,284.48 L245.78,284.71 L246.16,284.94 L246.54,285.17 L246.93,285.40 L247.31,285.62 L247.69,285.85 L248.07,286.07 L248.46,286.30 L248.84,286.52 L249.22,286.74 L249.60,286.96 L249.99,287.17 L250.37,287.39 L250.75,287.60 L251.13,287.82 L251.52,288.03 L251.90,288.24 L252.28,288.45 L252.66,288.66 L253.05,288.86 L253.43,289.07 L253.81,289.27 L254.19,289.48 L254.58,289.68 L254.96,289.88 L255.34,290.08 L255.72,290.28 L256.11,290.47 L256.49,290.67 L256.87,290.86 L257.25,291.06 L257.64,291.25 L258.02,291.44 L258.40,291.63 L258.78,291.82 L259.17,292.01 L259.55,292.19 L259.93,292.38 L260.31,292.56 L260.70,292.74 L261.08,292.92 L261.46,293.10 L261.85,293.28 L262.23,293.46 L262.61,293.64 L262.99,293.81 L263.37,293.99 L263.76,294.16 L264.14,294.33 L264.52,294.50 L264.90,294.67 L265.29,294.84 L265.67,295.01 L266.05,295.18 L266.44,295.34 L266.82,295.51 L267.20,295.67 L267.58,295.83 L267.96,295.99 L268.35,296.15 L268.73,296.31 L269.11,296.47 L269.50,296.63 L269.88,296.78 L270.26,296.94 L270.64,297.09 L271.02,297.24 L271.41,297.40 L271.79,297.55 L272.17,297.70 L272.56,297.85 L272.94,297.99 L273.32,298.14 L273.70,298.29 L274.08,298.43 L274.47,298.57 L274.85,298.72 L275.23,298.86 L275.61,299.00 L276.00,299.14 L276.38,299.28 L276.76,299.41 L277.14,299.55 L277.53,299.69 L277.91,299.82 L278.29,299.96 L278.67,300.09 L279.06,300.22 L279.44,300.35 L279.82,300.48 L280.20,300.61 L280.59,300.74 L280.97,300.87 L281.35,301.00 L281.73,301.12 L282.12,301.25 L282.50,301.37 L282.88,301.49 L283.26,301.62 L283.65,301.74 L284.03,301.86 L284.41,301.98 L284.80,302.10 L285.18,302.21 L285.56,302.33 L285.94,302.45 L286.32,302.56 L286.71,302.68 L287.09,302.79 L287.47,302.91 L287.86,303.02 L288.24,303.13 L288.62,303.24 L289.00,303.35 L289.38,303.46 L289.77,303.57 L290.15,303.67 L290.53,303.78 L290.91,303.89 L291.30,303.99 L291.68,304.10 L292.06,304.20 L292.44,304.30 L292.83,304.41 L293.21,304.51 L293.59,304.61 L293.97,304.71 L294.36,304.81 L294.74,304.91 L295.12,305.00 L295.50,305.10 L295.89,305.20 L296.27,305.29 L296.65,305.39 L297.03,305.48 L297.42,305.58 L297.80,305.67 L298.18,305.76 L298.56,305.85 L298.95,305.94 L299.33,306.03 L299.71,306.12 L300.09,306.21 L300.48,306.30 L300.86,306.39 L301.24,306.48 L301.62,306.56 L302.01,306.65 L302.39,306.73 L302.77,306.82 L303.15,306.90 L303.54,306.99 L303.92,307.07 L304.30,307.15 L304.68,307.23 L305.07,307.32 L305.45,307.40 L305.83,307.48 L306.21,307.56 L306.60,307.63 L306.98,307.71 L307.36,307.79 L307.75,307.87 L308.13,307.95 L308.51,308.02 L308.89,308.10 L309.27,308.17 L309.66,308.25 L310.04,308.32 L310.42,308.39 L310.81,308.47 L311.19,308.54 L311.57,308.61 L311.95,308.68 L312.33,308.76 L312.72,308.83 L313.10,308.90 L313.48,308.97 L313.87,309.04 L314.25,309.10 L314.63,309.17 L315.01,309.24 L315.39,309.31 L315.78,309.38 L316.16,309.44 L316.54,309.51 L316.92,309.57 L317.31,309.64 L317.69,309.71 L318.07,309.77 L318.45,309.83 L318.84,309.90 L319.22,309.96 L319.60,310.02 L319.99,310.09 L320.37,310.15 L320.75,310.21 L321.13,310.27 L321.51,310.33 L321.90,310.40 L322.28,310.46 L322.66,310.52 L323.05,310.58 L323.43,310.64 L323.81,310.70 L324.19,310.75 L324.57,310.81 L324.96,310.87 L325.34,310.93 L325.72,310.99 L326.11,311.04 L326.49,311.10 L326.87,311.16 L327.25,311.21 L327.63,311.27 L328.02,311.33 L328.40,311.38 L328.78,311.44 L329.16,311.49 L329.55,311.55 L329.93,311.60 L330.31,311.66 L330.69,311.71 L331.08,311.77 L331.46,311.82 L331.84,311.87 L332.22,311.93 L332.61,311.98 L332.99,312.03 L333.37,312.09 L333.75,312.14 L334.14,312.19 L334.52,312.24 L334.90,312.30 L335.28,312.35 L335.67,312.40 L336.05,312.45 L336.43,312.50 L336.81,312.55 L337.20,312.60 L337.58,312.66 L337.96,312.71 L338.35,312.76 L338.73,312.81 L339.11,312.86 L339.49,312.91 L339.88,312.96 L340.26,313.01 L340.64,313.06 L341.02,313.11 L341.40,313.16 L341.79,313.21 L342.17,313.26 L342.55,313.31 L342.94,313.36 L343.32,313.41 L343.70,313.46 L344.08,313.51 L344.46,313.55 L344.85,313.60 L345.23,313.65 L345.61,313.70 L346.00,313.75 L346.38,313.80 L346.76,313.85 L347.14,313.89 L347.52,313.94 L347.91,313.99 L348.29,314.04 L348.67,314.09 L349.06,314.13 L349.44,314.18 L349.82,314.23 L350.20,314.28 L350.58,314.32 L350.97,314.37 L351.35,314.42 L351.73,314.46 L352.12,314.51 L352.50,314.56 L352.88,314.60 L353.26,314.65 L353.64,314.70 L354.03,314.74 L354.41,314.79 L354.79,314.84 L355.17,314.88 L355.56,314.93 L355.94,314.97 L356.32,315.02 L356.70,315.07 L357.09,315.11 L357.47,315.16 L357.85,315.20 L358.23,315.25 L358.62,315.29 L359.00,315.34 L359.38,315.38 L359.76,315.43 L360.15,315.47 L360.53,315.52 L360.91,315.56 L361.30,315.61 L361.68,315.65 L362.06,315.69 L362.44,315.74 L362.82,315.78 L363.21,315.83 L363.59,315.87 L363.97,315.91 L364.36,315.96 L364.74,316.00 L365.12,316.05 L365.50,316.09 L365.88,316.13 L366.27,316.18 L366.65,316.22 L367.03,316.26 L367.41,316.30 L367.80,316.35 L368.18,316.39 L368.56,316.43 L368.94,316.48 L369.33,316.52 L369.71,316.56 L370.09,316.60 L370.47,316.65 L370.86,316.69 L371.24,316.73 L371.62,316.77 L372.00,316.81 L372.39,316.86 L372.77,316.90 L373.15,316.94 L373.53,316.98 L373.92,317.02 L374.30,317.06 L374.68,317.10 L375.06,317.15 L375.45,317.19 L375.83,317.23 L376.21,317.27 L376.59,317.31 L376.98,317.35 L377.36,317.39 L377.74,317.43 L378.12,317.47 L378.51,317.51 L378.89,317.55 L379.27,317.59 L379.65,317.63 L380.04,317.67 L380.42,317.71 L380.80,317.75 L381.18,317.79 L381.57,317.83 L381.95,317.87 L382.33,317.91 L382.71,317.95 L383.10,317.99 L383.48,318.03 L383.86,318.07 L384.25,318.11 L384.63,318.15 L385.01,318.19 L385.39,318.23 L385.77,318.27 L386.16,318.30 L386.54,318.34 L386.92,318.38 L387.31,318.42 L387.69,318.46 L388.07,318.50 L388.45,318.54 L388.83,318.57 L389.22,318.61 L389.60,318.65 L389.98,318.69 L390.37,318.73 L390.75,318.76 L391.13,318.80 L391.51,318.84 L391.89,318.88 L392.28,318.92 L392.66,318.95 L393.04,318.99 L393.42,319.03 L393.81,319.07 L394.19,319.10 L394.57,319.14 L394.95,319.18 L395.34,319.21 L395.72,319.25 L396.10,319.29 L396.48,319.32 L396.87,319.36 L397.25,319.40 L397.63,319.43 L398.01,319.47 L398.40,319.51 L398.78,319.54 L399.16,319.58 L399.54,319.62 L399.93,319.65 L400.31,319.69 L400.69,319.72 L401.07,319.76 L401.46,319.80 L401.84,319.83 L402.22,319.87 L402.61,319.90 L402.99,319.94 L403.37,319.98 L403.75,320.01 L404.13,320.05 L404.52,320.08 L404.90,320.12 L405.28,320.15 L405.66,320.19 L406.05,320.22 L406.43,320.26 L406.81,320.29 L407.19,320.33 L407.58,320.36 L407.96,320.40 L408.34,320.43 L408.72,320.47 L409.11,320.50 L409.49,320.54 L409.87,320.57 L410.25,320.60 L410.64,320.64 L411.02,320.67 L411.40,320.71 L411.78,320.74 L412.17,320.78 L412.55,320.81 L412.93,320.84 L413.31,320.88 L413.70,320.91 L414.08,320.95 L414.46,320.98 L414.84,321.01 L415.23,321.05 L415.61,321.08 L415.99,321.11 L416.38,321.15 L416.76,321.18 L417.14,321.21 L417.52,321.25 L417.90,321.28 L418.29,321.31 L418.67,321.35 L419.05,321.38 L419.43,321.41 L419.82,321.45 L420.20,321.48 L420.58,321.51 L420.96,321.55 L421.35,321.58 L421.73,321.61 L422.11,321.64 L422.49,321.68 L422.88,321.71 L423.26,321.74 L423.64,321.77 L424.02,321.81 L424.41,321.84 L424.79,321.87 L425.17,321.90 L425.55,321.94 L425.94,321.97 L426.32,322.00 L426.70,322.03 L427.08,322.06 L427.47,322.10 L427.85,322.13 L428.23,322.16 L428.61,322.19 L429.00,322.22 L429.38,322.26 L429.76,322.29 L430.14,322.32 L430.53,322.35 L430.91,322.38 L431.29,322.41 L431.67,322.44 L432.06,322.48 L432.44,322.51 L432.82,322.54 L433.20,322.57 L433.59,322.60 L433.97,322.63 L434.35,322.66 L434.73,322.70 L435.12,322.73 L435.50,322.76 L435.88,322.79 L436.26,322.82 L436.65,322.85 L437.03,322.88 L437.41,322.91 L437.79,322.94 L438.18,322.97 L438.56,323.00 L438.94,323.03 L439.32,323.07 L439.71,323.10 L440.09,323.13 L440.47,323.16 L440.85,323.19 L441.24,323.22 L441.62,323.25 L442.00,323.28 L442.38,323.31 L442.77,323.34 L443.15,323.37 L443.53,323.40 L443.91,323.43 L444.30,323.46 L444.68,323.49 L445.06,323.52 L445.44,323.55 L445.83,323.58 L446.21,323.61 L446.59,323.64 L446.97,323.67 L447.36,323.70 L447.74,323.73 L448.12,323.76 L448.50,323.79 L448.89,323.82 L449.27,323.85 L449.65,323.88 L450.03,323.91 L450.42,323.94 L450.80,323.97 L451.18,324.00 L451.56,324.03 L451.95,324.05 L452.33,324.08 L452.71,324.11 L453.09,324.14 L453.48,324.17 L453.86,324.20 L454.24,324.23 L454.62,324.26 L455.01,324.29 L455.39,324.32 L455.77,324.35 L456.15,324.38 L456.54,324.41 L456.92,324.43 L457.30,324.46 L457.68,324.49 L458.07,324.52 L458.45,324.55 L458.83,324.58 L459.21,324.61 L459.60,324.64 L459.98,324.67 L460.36,324.70 L460.74,324.72 L461.13,324.75 L461.51,324.78 L461.89,324.81 L462.27,324.84 L462.66,324.87 L463.04,324.90 L463.42,324.93 L463.80,324.95 L464.19,324.98 L464.57,325.01 L464.95,325.04 L465.33,325.07 L465.72,325.10 L466.10,325.12 L466.48,325.15 L466.86,325.18 L467.25,325.21 L467.63,325.24 L468.01,325.27 L468.39,325.30 L468.78,325.32 L469.16,325.35 L469.54,325.38 L469.92,325.41 L470.31,325.44 L470.69,325.47 L471.07,325.49 L471.45,325.52 L471.84,325.55 L472.22,325.58 L472.60,325.61 L472.98,325.63 L473.37,325.66 L473.75,325.69 L474.13,325.72 L474.51,325.75 L474.90,325.77 L475.28,325.80 L475.66,325.83 L476.04,325.86 L476.43,325.89 L476.81,325.92 L477.19,325.94 L477.57,325.97 L477.96,326.00 L478.34,326.03 L478.72,326.06 L479.10,326.08 L479.49,326.11 L479.87,326.14 L480.25,326.17 L480.63,326.19 L481.02,326.22 L481.40,326.25 L481.78,326.28 L482.16,326.31 L482.55,326.33 L482.93,326.36 L483.31,326.39 L483.69,326.42 L484.08,326.45 L484.46,326.47 L484.84,326.50 L485.22,326.53 L485.61,326.56 L485.99,326.58 L486.37,326.61 L486.75,326.64 L487.14,326.67 L487.52,326.70 L487.90,326.72 L488.28,326.75 L488.67,326.78 L489.05,326.81 L489.43,326.83 L489.81,326.86 L490.20,326.89 L490.58,326.92 L490.96,326.94 L491.34,326.97 L491.73,327.00 L492.11,327.03 L492.49,327.06 L492.87,327.08 L493.26,327.11 L493.64,327.14 L494.02,327.17 L494.40,327.19 L494.79,327.22 L495.17,327.25 L495.55,327.28 L495.93,327.30 L496.32,327.33 L496.70,327.36 L497.08,327.39 L497.46,327.42 L497.85,327.44 L498.23,327.47 L498.61,327.50 L498.99,327.53 L499.38,327.55 L499.76,327.58 L500.14,327.61 L500.52,327.64 L500.91,327.67 L501.29,327.69 L501.67,327.72 L502.05,327.75 L502.44,327.78 L502.82,327.80 L503.20,327.83 L503.58,327.86 L503.97,327.89 L504.35,327.91 L504.73,327.94 L505.11,327.97 L505.50,328.00 L505.88,328.03 L506.26,328.05 L506.64,328.08 L507.03,328.11 L507.41,328.14 L507.79,328.17 L508.17,328.19 L508.56,328.22 L508.94,328.25 L509.32,328.28 L509.70,328.30 L510.09,328.33 L510.47,328.36 L510.85,328.39 L511.23,328.42 L511.62,328.44 L512.00,328.47" stroke="#000" stroke-width="2.1" fill="none" stroke-linejoin="round"/><path d="M53.00,353.00 L53.38,352.99 L53.77,352.97 L54.15,352.93 L54.53,352.87 L54.91,352.81 L55.30,352.73 L55.68,352.64 L56.06,352.54 L56.44,352.43 L56.83,352.31 L57.21,352.18 L57.59,352.05 L57.97,351.91 L58.35,351.77 L58.74,351.62 L59.12,351.46 L59.50,351.24 L59.88,350.99 L60.27,350.69 L60.65,350.35 L61.03,349.99 L61.41,349.60 L61.80,349.19 L62.18,348.75 L62.56,348.31 L62.95,347.85 L63.33,347.40 L63.71,346.93 L64.09,346.48 L64.47,346.03 L64.86,345.58 L65.24,345.14 L65.62,344.68 L66.00,344.22 L66.39,343.75 L66.77,343.28 L67.15,342.80 L67.53,342.31 L67.92,341.82 L68.30,341.31 L68.68,340.80 L69.06,340.28 L69.45,339.74 L69.83,339.20 L70.21,338.65 L70.59,338.08 L70.98,337.50 L71.36,336.91 L71.74,336.31 L72.12,335.69 L72.51,335.06 L72.89,334.42 L73.27,333.76 L73.66,333.09 L74.04,332.40 L74.42,331.69 L74.80,330.97 L75.19,330.23 L75.57,329.46 L75.95,328.63 L76.33,327.74 L76.72,326.81 L77.10,325.82 L77.48,324.80 L77.86,323.74 L78.25,322.65 L78.63,321.53 L79.01,320.40 L79.39,319.25 L79.78,318.09 L80.16,316.92 L80.54,315.76 L80.92,314.60 L81.31,313.45 L81.69,312.32 L82.07,311.21 L82.45,310.13 L82.84,309.07 L83.22,308.00 L83.60,306.92 L83.98,305.84 L84.36,304.76 L84.75,303.68 L85.13,302.59 L85.51,301.51 L85.89,300.43 L86.28,299.35 L86.66,298.28 L87.04,297.21 L87.42,296.15 L87.81,295.09 L88.19,294.04 L88.57,293.00 L88.95,291.97 L89.34,290.95 L89.72,289.95 L90.10,288.97 L90.48,288.03 L90.87,287.10 L91.25,286.19 L91.63,285.27 L92.01,284.32 L92.40,283.35 L92.78,282.33 L93.16,281.23 L93.54,279.97 L93.93,278.60 L94.31,277.15 L94.69,275.65 L95.07,274.16 L95.46,272.71 L95.84,271.34 L96.22,270.09 L96.60,269.00 L96.99,268.11 L97.37,267.46 L97.75,267.04 L98.13,266.68 L98.52,266.38 L98.90,266.12 L99.28,265.89 L99.66,265.68 L100.05,265.47 L100.43,265.26 L100.81,265.03 L101.19,264.78 L101.58,264.49 L101.96,264.20 L102.34,263.90 L102.72,263.59 L103.11,263.27 L103.49,262.96 L103.87,262.65 L104.25,262.34 L104.64,262.03 L105.02,261.74 L105.40,261.45 L105.78,261.16 L106.17,260.87 L106.55,260.58 L106.93,260.30 L107.31,260.02 L107.70,259.75 L108.08,259.49 L108.46,259.23 L108.84,258.99 L109.23,258.77 L109.61,258.54 L109.99,258.32 L110.38,258.11 L110.76,257.89 L111.14,257.69 L111.52,257.48 L111.91,257.28 L112.29,257.09 L112.67,256.90 L113.05,256.72 L113.43,256.54 L113.82,256.37 L114.20,256.20 L114.58,256.04 L114.97,255.89 L115.35,255.74 L115.73,255.59 L116.11,255.44 L116.50,255.29 L116.88,255.14 L117.26,254.99 L117.64,254.84 L118.03,254.69 L118.41,254.55 L118.79,254.41 L119.17,254.28 L119.56,254.15 L119.94,254.04 L120.32,253.93 L120.70,253.83 L121.08,253.74 L121.47,253.66 L121.85,253.60 L122.23,253.54 L122.62,253.51 L123.00,253.49 L123.38,253.46 L123.76,253.44 L124.14,253.42 L124.53,253.40 L124.91,253.38 L125.29,253.37 L125.67,253.35 L126.06,253.34 L126.44,253.33 L126.82,253.33 L127.20,253.32 L127.59,253.32 L127.97,253.33 L128.35,253.34 L128.73,253.35 L129.12,253.37 L129.50,253.39 L129.88,253.41 L130.26,253.45 L130.65,253.48 L131.03,253.52 L131.41,253.57 L131.79,253.63 L132.18,253.69 L132.56,253.75 L132.94,253.83 L133.32,253.91 L133.71,253.99 L134.09,254.09 L134.47,254.19 L134.85,254.30 L135.24,254.42 L135.62,254.54 L136.00,254.67 L136.38,254.77 L136.77,254.87 L137.15,254.97 L137.53,255.08 L137.91,255.18 L138.30,255.29 L138.68,255.40 L139.06,255.52 L139.44,255.64 L139.83,255.76 L140.21,255.88 L140.59,256.01 L140.97,256.14 L141.36,256.27 L141.74,256.40 L142.12,256.54 L142.50,256.68 L142.89,256.82 L143.27,256.97 L143.65,257.12 L144.03,257.27 L144.42,257.42 L144.80,257.57 L145.18,257.73 L145.56,257.89 L145.95,258.05 L146.33,258.21 L146.71,258.38 L147.09,258.55 L147.48,258.72 L147.86,258.89 L148.24,259.06 L148.62,259.24 L149.01,259.41 L149.39,259.59 L149.77,259.78 L150.16,259.96 L150.54,260.14 L150.92,260.33 L151.30,260.52 L151.69,260.71 L152.07,260.90 L152.45,261.09 L152.83,261.29 L153.22,261.49 L153.60,261.68 L153.98,261.88 L154.36,262.08 L154.74,262.29 L155.13,262.49 L155.51,262.69 L155.89,262.90 L156.27,263.11 L156.66,263.32 L157.04,263.53 L157.42,263.74 L157.80,263.95 L158.19,264.16 L158.57,264.37 L158.95,264.59 L159.34,264.80 L159.72,265.02 L160.10,265.24 L160.48,265.46 L160.86,265.67 L161.25,265.89 L161.63,266.11 L162.01,266.33 L162.39,266.56 L162.78,266.78 L163.16,267.00 L163.54,267.22 L163.92,267.45 L164.31,267.67 L164.69,267.89 L165.07,268.12 L165.45,268.34 L165.84,268.57 L166.22,268.79 L166.60,269.02 L166.98,269.25 L167.37,269.47 L167.75,269.70 L168.13,269.92 L168.51,270.15 L168.90,270.38 L169.28,270.60 L169.66,270.83 L170.04,271.05 L170.43,271.28 L170.81,271.50 L171.19,271.73 L171.57,271.95 L171.96,272.18 L172.34,272.40 L172.72,272.62 L173.10,272.85 L173.49,273.07 L173.87,273.29 L174.25,273.51 L174.63,273.73 L175.02,273.96 L175.40,274.18 L175.78,274.40 L176.16,274.62 L176.55,274.84 L176.93,275.06 L177.31,275.28 L177.69,275.49 L178.08,275.71 L178.46,275.93 L178.84,276.15 L179.22,276.36 L179.61,276.58 L179.99,276.80 L180.37,277.01 L180.75,277.23 L181.14,277.44 L181.52,277.66 L181.90,277.87 L182.28,278.08 L182.67,278.30 L183.05,278.51 L183.43,278.72 L183.81,278.94 L184.20,279.15 L184.58,279.36 L184.96,279.57 L185.34,279.78 L185.73,279.99 L186.11,280.20 L186.49,280.41 L186.87,280.62 L187.26,280.83 L187.64,281.04 L188.02,281.24 L188.40,281.45 L188.79,281.66 L189.17,281.86 L189.55,282.07 L189.93,282.28 L190.32,282.48 L190.70,282.69 L191.08,282.89 L191.46,283.09 L191.85,283.30 L192.23,283.50 L192.61,283.70 L192.99,283.91 L193.38,284.11 L193.76,284.31 L194.14,284.51 L194.52,284.71 L194.91,284.91 L195.29,285.11 L195.67,285.31 L196.05,285.51 L196.44,285.71 L196.82,285.91 L197.20,286.11 L197.58,286.30 L197.97,286.50 L198.35,286.70 L198.73,286.89 L199.11,287.09 L199.50,287.28 L199.88,287.48 L200.26,287.67 L200.64,287.87 L201.03,288.06 L201.41,288.25 L201.79,288.45 L202.17,288.64 L202.56,288.83 L202.94,289.02 L203.32,289.21 L203.70,289.40 L204.09,289.59 L204.47,289.78 L204.85,289.97 L205.23,290.16 L205.62,290.35 L206.00,290.54 L206.38,290.72 L206.76,290.91 L207.15,291.10 L207.53,291.28 L207.91,291.47 L208.29,291.65 L208.68,291.84 L209.06,292.02 L209.44,292.21 L209.82,292.39 L210.21,292.57 L210.59,292.75 L210.97,292.94 L211.35,293.12 L211.74,293.30 L212.12,293.48 L212.50,293.66 L212.88,293.84 L213.27,294.02 L213.65,294.20 L214.03,294.38 L214.41,294.55 L214.80,294.73 L215.18,294.91 L215.56,295.08 L215.94,295.26 L216.33,295.44 L216.71,295.61 L217.09,295.78 L217.47,295.96 L217.86,296.13 L218.24,296.31 L218.62,296.48 L219.00,296.65 L219.39,296.82 L219.77,296.99 L220.15,297.16 L220.53,297.34 L220.92,297.51 L221.30,297.67 L221.68,297.84 L222.06,298.01 L222.45,298.18 L222.83,298.35 L223.21,298.51 L223.59,298.68 L223.98,298.85 L224.36,299.01 L224.74,299.18 L225.12,299.34 L225.51,299.51 L225.89,299.67 L226.27,299.83 L226.65,300.00 L227.04,300.16 L227.42,300.32 L227.80,300.48 L228.18,300.64 L228.57,300.80 L228.95,300.96 L229.33,301.12 L229.71,301.28 L230.10,301.44 L230.48,301.60 L230.86,301.75 L231.24,301.91 L231.63,302.07 L232.01,302.22 L232.39,302.38 L232.77,302.53 L233.16,302.69 L233.54,302.84 L233.92,303.00 L234.30,303.15 L234.69,303.30 L235.07,303.45 L235.45,303.60 L235.83,303.76 L236.22,303.91 L236.60,304.06 L236.98,304.20 L237.36,304.35 L237.75,304.50 L238.13,304.65 L238.51,304.80 L238.89,304.94 L239.28,305.09 L239.66,305.24 L240.04,305.38 L240.42,305.53 L240.81,305.67 L241.19,305.81 L241.57,305.96 L241.95,306.10 L242.34,306.24 L242.72,306.38 L243.10,306.53 L243.48,306.67 L243.87,306.81 L244.25,306.95 L244.63,307.08 L245.01,307.22 L245.40,307.36 L245.78,307.50 L246.16,307.64 L246.54,307.77 L246.93,307.91 L247.31,308.04 L247.69,308.18 L248.07,308.31 L248.46,308.45 L248.84,308.58 L249.22,308.71 L249.60,308.85 L249.99,308.98 L250.37,309.11 L250.75,309.24 L251.13,309.37 L251.52,309.50 L251.90,309.63 L252.28,309.76 L252.66,309.88 L253.05,310.01 L253.43,310.14 L253.81,310.27 L254.19,310.39 L254.58,310.52 L254.96,310.64 L255.34,310.77 L255.72,310.89 L256.11,311.01 L256.49,311.14 L256.87,311.26 L257.25,311.38 L257.64,311.50 L258.02,311.62 L258.40,311.74 L258.78,311.86 L259.17,311.98 L259.55,312.10 L259.93,312.21 L260.31,312.33 L260.70,312.45 L261.08,312.56 L261.46,312.68 L261.85,312.79 L262.23,312.91 L262.61,313.02 L262.99,313.14 L263.37,313.25 L263.76,313.36 L264.14,313.47 L264.52,313.58 L264.90,313.69 L265.29,313.80 L265.67,313.91 L266.05,314.02 L266.44,314.13 L266.82,314.24 L267.20,314.35 L267.58,314.45 L267.96,314.56 L268.35,314.67 L268.73,314.77 L269.11,314.88 L269.50,314.98 L269.88,315.08 L270.26,315.19 L270.64,315.29 L271.02,315.39 L271.41,315.49 L271.79,315.59 L272.17,315.70 L272.56,315.80 L272.94,315.90 L273.32,315.99 L273.70,316.09 L274.08,316.19 L274.47,316.29 L274.85,316.39 L275.23,316.48 L275.61,316.58 L276.00,316.67 L276.38,316.77 L276.76,316.86 L277.14,316.96 L277.53,317.05 L277.91,317.14 L278.29,317.24 L278.67,317.33 L279.06,317.42 L279.44,317.51 L279.82,317.60 L280.20,317.69 L280.59,317.78 L280.97,317.87 L281.35,317.96 L281.73,318.05 L282.12,318.14 L282.50,318.22 L282.88,318.31 L283.26,318.40 L283.65,318.48 L284.03,318.57 L284.41,318.65 L284.80,318.74 L285.18,318.82 L285.56,318.91 L285.94,318.99 L286.32,319.07 L286.71,319.15 L287.09,319.24 L287.47,319.32 L287.86,319.40 L288.24,319.48 L288.62,319.56 L289.00,319.64 L289.38,319.72 L289.77,319.80 L290.15,319.87 L290.53,319.95 L290.91,320.03 L291.30,320.11 L291.68,320.18 L292.06,320.26 L292.44,320.33 L292.83,320.41 L293.21,320.48 L293.59,320.56 L293.97,320.63 L294.36,320.70 L294.74,320.78 L295.12,320.85 L295.50,320.92 L295.89,320.99 L296.27,321.06 L296.65,321.13 L297.03,321.20 L297.42,321.27 L297.80,321.34 L298.18,321.41 L298.56,321.48 L298.95,321.55 L299.33,321.62 L299.71,321.68 L300.09,321.75 L300.48,321.82 L300.86,321.88 L301.24,321.95 L301.62,322.01 L302.01,322.08 L302.39,322.14 L302.77,322.21 L303.15,322.27 L303.54,322.33 L303.92,322.40 L304.30,322.46 L304.68,322.52 L305.07,322.58 L305.45,322.65 L305.83,322.71 L306.21,322.77 L306.60,322.83 L306.98,322.89 L307.36,322.95 L307.75,323.00 L308.13,323.06 L308.51,323.12 L308.89,323.18 L309.27,323.24 L309.66,323.29 L310.04,323.35 L310.42,323.41 L310.81,323.46 L311.19,323.52 L311.57,323.57 L311.95,323.63 L312.33,323.68 L312.72,323.74 L313.10,323.79 L313.48,323.84 L313.87,323.90 L314.25,323.95 L314.63,324.00 L315.01,324.05 L315.39,324.10 L315.78,324.15 L316.16,324.20 L316.54,324.26 L316.92,324.31 L317.31,324.35 L317.69,324.40 L318.07,324.45 L318.45,324.50 L318.84,324.55 L319.22,324.60 L319.60,324.65 L319.99,324.69 L320.37,324.74 L320.75,324.79 L321.13,324.83 L321.51,324.88 L321.90,324.92 L322.28,324.97 L322.66,325.01 L323.05,325.06 L323.43,325.10 L323.81,325.15 L324.19,325.19 L324.57,325.23 L324.96,325.28 L325.34,325.32 L325.72,325.36 L326.11,325.40 L326.49,325.44 L326.87,325.48 L327.25,325.53 L327.63,325.57 L328.02,325.61 L328.40,325.65 L328.78,325.69 L329.16,325.73 L329.55,325.76 L329.93,325.80 L330.31,325.84 L330.69,325.88 L331.08,325.92 L331.46,325.96 L331.84,325.99 L332.22,326.03 L332.61,326.07 L332.99,326.10 L333.37,326.14 L333.75,326.17 L334.14,326.21 L334.52,326.24 L334.90,326.28 L335.28,326.31 L335.67,326.35 L336.05,326.38 L336.43,326.42 L336.81,326.45 L337.20,326.48 L337.58,326.51 L337.96,326.55 L338.35,326.58 L338.73,326.61 L339.11,326.64 L339.49,326.67 L339.88,326.71 L340.26,326.74 L340.64,326.77 L341.02,326.80 L341.40,326.83 L341.79,326.86 L342.17,326.89 L342.55,326.92 L342.94,326.94 L343.32,326.97 L343.70,327.00 L344.08,327.03 L344.46,327.06 L344.85,327.09 L345.23,327.11 L345.61,327.14 L346.00,327.17 L346.38,327.19 L346.76,327.22 L347.14,327.25 L347.52,327.27 L347.91,327.30 L348.29,327.32 L348.67,327.35 L349.06,327.37 L349.44,327.40 L349.82,327.42 L350.20,327.45 L350.58,327.47 L350.97,327.49 L351.35,327.52 L351.73,327.54 L352.12,327.56 L352.50,327.59 L352.88,327.61 L353.26,327.63 L353.64,327.65 L354.03,327.67 L354.41,327.70 L354.79,327.72 L355.17,327.74 L355.56,327.76 L355.94,327.78 L356.32,327.80 L356.70,327.82 L357.09,327.84 L357.47,327.86 L357.85,327.88 L358.23,327.90 L358.62,327.92 L359.00,327.94 L359.38,327.96 L359.76,327.98 L360.15,328.00 L360.53,328.01 L360.91,328.03 L361.30,328.05 L361.68,328.07 L362.06,328.08 L362.44,328.10 L362.82,328.12 L363.21,328.14 L363.59,328.15 L363.97,328.17 L364.36,328.18 L364.74,328.20 L365.12,328.22 L365.50,328.23 L365.88,328.25 L366.27,328.26 L366.65,328.28 L367.03,328.29 L367.41,328.31 L367.80,328.32 L368.18,328.34 L368.56,328.35 L368.94,328.37 L369.33,328.38 L369.71,328.39 L370.09,328.41 L370.47,328.42 L370.86,328.43 L371.24,328.45 L371.62,328.46 L372.00,328.47 L372.39,328.48 L372.77,328.50 L373.15,328.51 L373.53,328.52 L373.92,328.53 L374.30,328.55 L374.68,328.56 L375.06,328.57 L375.45,328.58 L375.83,328.59 L376.21,328.60 L376.59,328.61 L376.98,328.62 L377.36,328.63 L377.74,328.64 L378.12,328.65 L378.51,328.66 L378.89,328.67 L379.27,328.68 L379.65,328.69 L380.04,328.70 L380.42,328.71 L380.80,328.72 L381.18,328.73 L381.57,328.74 L381.95,328.75 L382.33,328.76 L382.71,328.77 L383.10,328.78 L383.48,328.78 L383.86,328.79 L384.25,328.80 L384.63,328.81 L385.01,328.82 L385.39,328.83 L385.77,328.83 L386.16,328.84 L386.54,328.85 L386.92,328.86 L387.31,328.86 L387.69,328.87 L388.07,328.88 L388.45,328.88 L388.83,328.89 L389.22,328.90 L389.60,328.90 L389.98,328.91 L390.37,328.92 L390.75,328.92 L391.13,328.93 L391.51,328.94 L391.89,328.94 L392.28,328.95 L392.66,328.95 L393.04,328.96 L393.42,328.97 L393.81,328.97 L394.19,328.98 L394.57,328.98 L394.95,328.99 L395.34,328.99 L395.72,329.00 L396.10,329.00 L396.48,329.01 L396.87,329.01 L397.25,329.02 L397.63,329.02 L398.01,329.03 L398.40,329.03 L398.78,329.04 L399.16,329.04 L399.54,329.05 L399.93,329.05 L400.31,329.06 L400.69,329.06 L401.07,329.06 L401.46,329.07 L401.84,329.07 L402.22,329.08 L402.61,329.08 L402.99,329.08 L403.37,329.09 L403.75,329.09 L404.13,329.10 L404.52,329.10 L404.90,329.10 L405.28,329.11 L405.66,329.11 L406.05,329.11 L406.43,329.12 L406.81,329.12 L407.19,329.12 L407.58,329.13 L407.96,329.13 L408.34,329.13 L408.72,329.14 L409.11,329.14 L409.49,329.14 L409.87,329.15 L410.25,329.15 L410.64,329.15 L411.02,329.16 L411.40,329.16 L411.78,329.16 L412.17,329.17 L412.55,329.17 L412.93,329.17 L413.31,329.17 L413.70,329.18 L414.08,329.18 L414.46,329.18 L414.84,329.19 L415.23,329.19 L415.61,329.19 L415.99,329.19 L416.38,329.20 L416.76,329.20 L417.14,329.20 L417.52,329.21 L417.90,329.21 L418.29,329.21 L418.67,329.21 L419.05,329.22 L419.43,329.22 L419.82,329.22 L420.20,329.23 L420.58,329.23 L420.96,329.23 L421.35,329.23 L421.73,329.24 L422.11,329.24 L422.49,329.24 L422.88,329.25 L423.26,329.25 L423.64,329.25 L424.02,329.25 L424.41,329.26 L424.79,329.26 L425.17,329.26 L425.55,329.27 L425.94,329.27 L426.32,329.27 L426.70,329.28 L427.08,329.28 L427.47,329.28 L427.85,329.29 L428.23,329.29 L428.61,329.29 L429.00,329.30 L429.38,329.30 L429.76,329.30 L430.14,329.31 L430.53,329.31 L430.91,329.31 L431.29,329.32 L431.67,329.32 L432.06,329.32 L432.44,329.33 L432.82,329.33 L433.20,329.33 L433.59,329.34 L433.97,329.34 L434.35,329.35 L434.73,329.35 L435.12,329.35 L435.50,329.36 L435.88,329.36 L436.26,329.37 L436.65,329.37 L437.03,329.38 L437.41,329.38 L437.79,329.38 L438.18,329.39 L438.56,329.39 L438.94,329.40 L439.32,329.40 L439.71,329.41 L440.09,329.41 L440.47,329.42 L440.85,329.42 L441.24,329.43 L441.62,329.43 L442.00,329.44 L442.38,329.44 L442.77,329.45 L443.15,329.46 L443.53,329.46 L443.91,329.47 L444.30,329.47 L444.68,329.48 L445.06,329.48 L445.44,329.49 L445.83,329.50 L446.21,329.50 L446.59,329.51 L446.97,329.52 L447.36,329.52 L447.74,329.53 L448.12,329.54 L448.50,329.54 L448.89,329.55 L449.27,329.56 L449.65,329.56 L450.03,329.57 L450.42,329.58 L450.80,329.59 L451.18,329.59 L451.56,329.60 L451.95,329.61 L452.33,329.62 L452.71,329.63 L453.09,329.63 L453.48,329.64 L453.86,329.65 L454.24,329.66 L454.62,329.67 L455.01,329.68 L455.39,329.69 L455.77,329.70 L456.15,329.70 L456.54,329.71 L456.92,329.72 L457.30,329.73 L457.68,329.74 L458.07,329.75 L458.45,329.76 L458.83,329.77 L459.21,329.78 L459.60,329.79 L459.98,329.80 L460.36,329.82 L460.74,329.83 L461.13,329.84 L461.51,329.85 L461.89,329.86 L462.27,329.87 L462.66,329.88 L463.04,329.89 L463.42,329.91 L463.80,329.92 L464.19,329.93 L464.57,329.94 L464.95,329.96 L465.33,329.97 L465.72,329.98 L466.10,330.00 L466.48,330.01 L466.86,330.02 L467.25,330.04 L467.63,330.05 L468.01,330.06 L468.39,330.08 L468.78,330.09 L469.16,330.11 L469.54,330.12 L469.92,330.14 L470.31,330.15 L470.69,330.17 L471.07,330.18 L471.45,330.20 L471.84,330.21 L472.22,330.23 L472.60,330.24 L472.98,330.26 L473.37,330.28 L473.75,330.29 L474.13,330.31 L474.51,330.33 L474.90,330.34 L475.28,330.36 L475.66,330.38 L476.04,330.40 L476.43,330.42 L476.81,330.43 L477.19,330.45 L477.57,330.47 L477.96,330.49 L478.34,330.51 L478.72,330.53 L479.10,330.55 L479.49,330.57 L479.87,330.59 L480.25,330.61 L480.63,330.63 L481.02,330.65 L481.40,330.67 L481.78,330.69 L482.16,330.71 L482.55,330.73 L482.93,330.76 L483.31,330.78 L483.69,330.80 L484.08,330.82 L484.46,330.84 L484.84,330.87 L485.22,330.89 L485.61,330.91 L485.99,330.94 L486.37,330.96 L486.75,330.98 L487.14,331.01 L487.52,331.03 L487.90,331.06 L488.28,331.08 L488.67,331.11 L489.05,331.13 L489.43,331.16 L489.81,331.19 L490.20,331.21 L490.58,331.24 L490.96,331.26 L491.34,331.29 L491.73,331.32 L492.11,331.35 L492.49,331.37 L492.87,331.40 L493.26,331.43 L493.64,331.46 L494.02,331.49 L494.40,331.52 L494.79,331.55 L495.17,331.57 L495.55,331.60 L495.93,331.63 L496.32,331.67 L496.70,331.70 L497.08,331.73 L497.46,331.76 L497.85,331.79 L498.23,331.82 L498.61,331.85 L498.99,331.89 L499.38,331.92 L499.76,331.95 L500.14,331.98 L500.52,332.02 L500.91,332.05 L501.29,332.08 L501.67,332.12 L502.05,332.15 L502.44,332.19 L502.82,332.22 L503.20,332.26 L503.58,332.29 L503.97,332.33 L504.35,332.37 L504.73,332.40 L505.11,332.44 L505.50,332.48 L505.88,332.52 L506.26,332.55 L506.64,332.59 L507.03,332.63 L507.41,332.67 L507.79,332.71 L508.17,332.75 L508.56,332.79 L508.94,332.83 L509.32,332.87 L509.70,332.91 L510.09,332.95 L510.47,332.99 L510.85,333.03 L511.23,333.07 L511.62,333.12 L512.00,333.16" stroke="#000" stroke-width="2.1" fill="none" stroke-linejoin="round"/><circle cx="53.60" cy="353.00" r="3.4" fill="none" stroke="#333" stroke-width="1"/><circle cx="65.06" cy="342.76" r="3.4" fill="none" stroke="#333" stroke-width="1"/><circle cx="76.52" cy="315.92" r="3.4" fill="none" stroke="#333" stroke-width="1"/><circle cx="99.44" cy="238.07" r="3.4" fill="none" stroke="#333" stroke-width="1"/><circle cx="122.36" cy="187.82" r="3.4" fill="none" stroke="#333" stroke-width="1"/><circle cx="145.28" cy="143.62" r="3.4" fill="none" stroke="#333" stroke-width="1"/><circle cx="168.20" cy="112.44" r="3.4" fill="none" stroke="#333" stroke-width="1"/><circle cx="191.12" cy="97.09" r="3.4" fill="none" stroke="#333" stroke-width="1"/><circle cx="214.04" cy="68.00" r="3.4" fill="none" stroke="#333" stroke-width="1"/><circle cx="236.96" cy="59.16" r="3.4" fill="none" stroke="#333" stroke-width="1"/><circle cx="259.88" cy="89.64" r="3.4" fill="none" stroke="#333" stroke-width="1"/><circle cx="282.80" cy="98.02" r="3.4" fill="none" stroke="#333" stroke-width="1"/><circle cx="328.64" cy="143.38" r="3.4" fill="none" stroke="#333" stroke-width="1"/><circle cx="374.48" cy="206.20" r="3.4" fill="none" stroke="#333" stroke-width="1"/><circle cx="420.32" cy="250.63" r="3.4" fill="none" stroke="#333" stroke-width="1"/><circle cx="466.16" cy="279.95" r="3.4" fill="none" stroke="#333" stroke-width="1"/><circle cx="512.00" cy="290.18" r="3.4" fill="none" stroke="#333" stroke-width="1"/><rect x="50.50" y="349.90" width="6.2" height="6.2" fill="none" stroke="#111" stroke-width="1.3"/><rect x="61.96" y="340.59" width="6.2" height="6.2" fill="none" stroke="#111" stroke-width="1.3"/><rect x="73.42" y="302.44" width="6.2" height="6.2" fill="none" stroke="#111" stroke-width="1.3"/><rect x="96.34" y="227.53" width="6.2" height="6.2" fill="none" stroke="#111" stroke-width="1.3"/><rect x="119.26" y="215.43" width="6.2" height="6.2" fill="none" stroke="#111" stroke-width="1.3"/><rect x="142.18" y="221.01" width="6.2" height="6.2" fill="none" stroke="#111" stroke-width="1.3"/><rect x="165.10" y="232.18" width="6.2" height="6.2" fill="none" stroke="#111" stroke-width="1.3"/><rect x="188.02" y="243.35" width="6.2" height="6.2" fill="none" stroke="#111" stroke-width="1.3"/><rect x="210.94" y="266.61" width="6.2" height="6.2" fill="none" stroke="#111" stroke-width="1.3"/><rect x="233.86" y="274.99" width="6.2" height="6.2" fill="none" stroke="#111" stroke-width="1.3"/><rect x="256.78" y="288.48" width="6.2" height="6.2" fill="none" stroke="#111" stroke-width="1.3"/><rect x="279.70" y="298.25" width="6.2" height="6.2" fill="none" stroke="#111" stroke-width="1.3"/><rect x="325.54" y="305.70" width="6.2" height="6.2" fill="none" stroke="#111" stroke-width="1.3"/><rect x="371.38" y="311.28" width="6.2" height="6.2" fill="none" stroke="#111" stroke-width="1.3"/><rect x="417.22" y="319.19" width="6.2" height="6.2" fill="none" stroke="#111" stroke-width="1.3"/><rect x="463.06" y="323.15" width="6.2" height="6.2" fill="none" stroke="#111" stroke-width="1.3"/><rect x="508.90" y="323.84" width="6.2" height="6.2" fill="none" stroke="#111" stroke-width="1.3"/><path d="M53.60,349.00L57.90,356.40L49.30,356.40Z" fill="#000"/><path d="M65.06,342.02L69.36,349.42L60.76,349.42Z" fill="#000"/><path d="M76.52,319.45L80.82,326.85L72.22,326.85Z" fill="#000"/><path d="M99.44,263.85L103.74,271.25L95.14,271.25Z" fill="#000"/><path d="M122.36,248.50L126.66,255.90L118.06,255.90Z" fill="#000"/><path d="M145.28,254.54L149.58,261.94L140.98,261.94Z" fill="#000"/><path d="M168.20,267.11L172.50,274.51L163.90,274.51Z" fill="#000"/><path d="M191.12,269.43L195.42,276.83L186.82,276.83Z" fill="#000"/><path d="M214.04,293.16L218.34,300.56L209.74,300.56Z" fill="#000"/><path d="M236.96,299.21L241.26,306.61L232.66,306.61Z" fill="#000"/><path d="M259.88,306.19L264.18,313.59L255.58,313.59Z" fill="#000"/><path d="M282.80,313.17L287.10,320.57L278.50,320.57Z" fill="#000"/><path d="M328.64,319.69L332.94,327.09L324.34,327.09Z" fill="#000"/><path d="M374.48,321.22L378.78,328.62L370.18,328.62Z" fill="#000"/><path d="M420.32,324.11L424.62,331.51L416.02,331.51Z" fill="#000"/><path d="M466.16,327.60L470.46,335.00L461.86,335.00Z" fill="#000"/><path d="M512.00,329.92L516.30,337.32L507.70,337.32Z" fill="#000"/></svg>
</body></html>
